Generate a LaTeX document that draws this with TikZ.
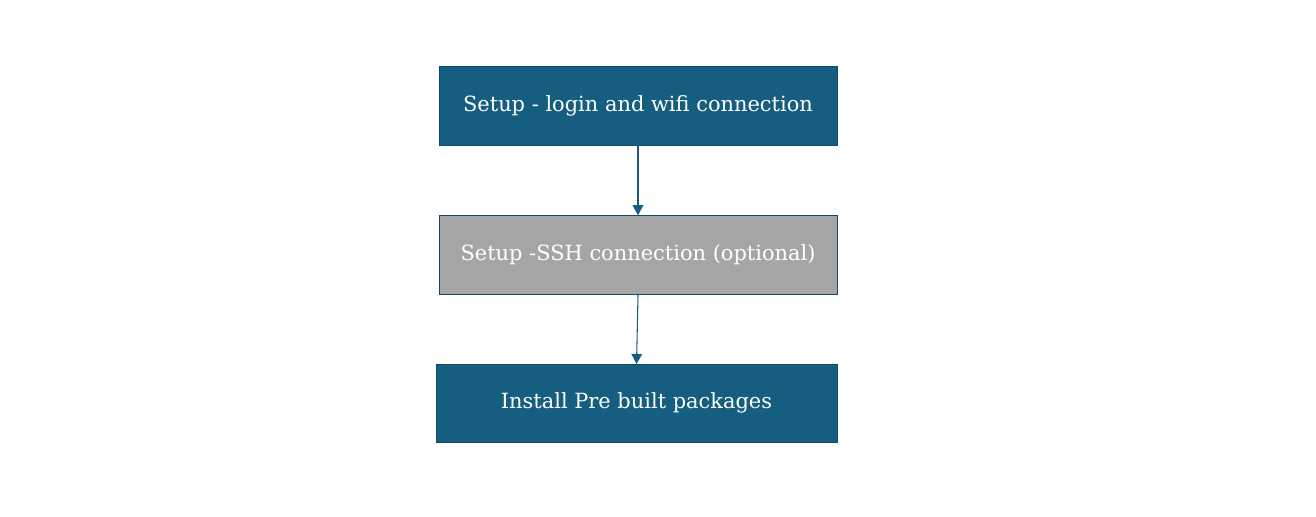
\documentclass[tikz,border=0pt]{standalone}
\usepackage{fontspec}
\setmainfont{DejaVu Serif}
\usetikzlibrary{arrows.meta,positioning}
\definecolor{deepblue}{HTML}{165E80}
\definecolor{edgeblue}{HTML}{0F4A66}
\definecolor{midgray}{HTML}{A5A5A5}

\begin{document}
\begin{tikzpicture}[
  node distance=52.5pt,
  stage/.style={draw=edgeblue,fill=deepblue,text=white,minimum width=298.5pt,
    minimum height=59.25pt,align=center,font=\fontsize{15.7}{18}\selectfont,inner sep=0pt},
  optional/.style={stage,fill=midgray},
  flow/.style={-{Triangle[length=7.5pt,width=8pt]},thick,deepblue}]
\useasboundingbox (0,0) rectangle (987pt,-387.75pt);
\node[stage] (login) at (478.5pt,-79.1pt) {Setup - login and wifi connection};
\node[optional,below=of login] (ssh) {Setup -SSH connection (optional)};
\node[stage,below=of ssh,yshift=0.6pt,xshift=-1.1pt,minimum width=300.75pt,minimum height=58.5pt] (install) {Install Pre built packages};
\draw[flow] (login) -- (ssh);
\draw[flow] (ssh.south) -- (install.north);
\end{tikzpicture}
\end{document}
